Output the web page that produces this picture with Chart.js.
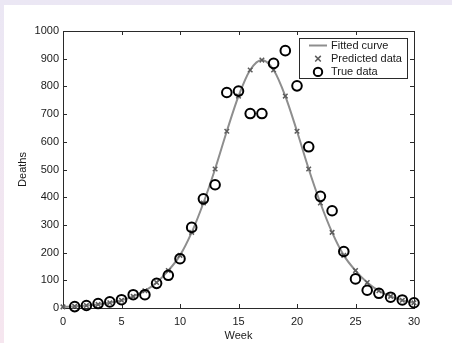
<!DOCTYPE html>
<html>
<head>
<meta charset="utf-8">
<script src="https://cdn.jsdelivr.net/npm/chart.js@4"></script>
<style>
  html, body { margin: 0; padding: 0; }
  body { width: 452px; height: 343px; background: linear-gradient(#ebe7f4, #f6e6ef); position: relative; overflow: hidden; }
  #wrap { position: absolute; left: 4px; top: 5px; width: 448px; height: 338px; background: #fff; }
</style>
</head>
<body>
<div id="wrap"><canvas id="fitCanvas" width="448" height="338"></canvas></div>
<script>
// weeks and values
var weeks = [0,1,2,3,4,5,6,7,8,9,10,11,12,13,14,15,16,17,18,19,20,21,22,23,24,25,26,27,28,29,30];
var predicted = [4,6,9,13,19,28,42,62,92,135,190,273,379,502,638,765,859,895,859,765,638,502,379,273,190,135,92,62,42,28,19];
var trueWeeks = [1,2,3,4,5,6,7,8,9,10,11,12,13,14,15,16,17,18,19,20,21,22,23,24,25,26,27,28,29,30];
var trueDeaths = [5,9,16,22,30,48,48,89,118,178,291,394,445,778,783,702,702,883,929,802,582,403,351,204,105,64,53,39,29,19];
var xTicks = [0,5,10,15,20,25,30];
var yTicks = [0,100,200,300,400,500,600,700,800,900,1000];

var fontFam = "'Liberation Sans', Arial, sans-serif";

function pts(xs, ys){
    var out = [];
    for(var i = 0; i < xs.length; i++){
        out.push({x: xs[i], y: ys[i]});
    }
    return out;
}

// axes box with inward ticks on all sides (matlab look)
var framePlugin = {
    id: 'frame',
    beforeDatasetsDraw: function(chart){
        var ctx = chart.ctx, a = chart.chartArea;
        var xs = chart.scales.x, ys = chart.scales.y;
        ctx.save();
        ctx.strokeStyle = '#2a2a2a';
        ctx.lineWidth = 1;
        ctx.strokeRect(a.left + 0.5, a.top + 0.5, a.right - a.left, a.bottom - a.top);
        ctx.beginPath();
        xTicks.forEach(function(t){
            var px = Math.round(xs.getPixelForValue(t)) + 0.5;
            ctx.moveTo(px, a.bottom); ctx.lineTo(px, a.bottom - 4);
            ctx.moveTo(px, a.top); ctx.lineTo(px, a.top + 4);
        });
        yTicks.forEach(function(t){
            var py = Math.round(ys.getPixelForValue(t)) + 0.5;
            ctx.moveTo(a.left, py); ctx.lineTo(a.left + 4, py);
            ctx.moveTo(a.right, py); ctx.lineTo(a.right - 4, py);
        });
        ctx.stroke();
        ctx.restore();
    }
};

// legend box in the top right corner of the axes
var legendPlugin = {
    id: 'boxLegend',
    afterDraw: function(chart){
        var ctx = chart.ctx, a = chart.chartArea;
        var ds = chart.data.datasets;
        var bx = 295, by = 33, bw = 108, bh = 40;
        ctx.save();
        ctx.fillStyle = '#fff';
        ctx.fillRect(bx, by, bw, bh);
        ctx.strokeStyle = '#2a2a2a';
        ctx.lineWidth = 1;
        ctx.strokeRect(bx + 0.5, by + 0.5, bw, bh);
        ctx.font = '11px ' + fontFam;
        ctx.textBaseline = 'middle';
        for(var i = 0; i < ds.length; i++){
            var cy = by + 7.5 + i * 13.2;
            var cx = bx + 19;
            ctx.strokeStyle = ds[i].borderColor;
            ctx.lineWidth = ds[i].borderWidth;
            ctx.beginPath();
            if(i == 0){
                ctx.moveTo(cx - 9, cy); ctx.lineTo(cx + 9, cy);
            }else if(ds[i].pointStyle == 'crossRot'){
                var r = 2.8;
                ctx.moveTo(cx - r, cy - r); ctx.lineTo(cx + r, cy + r);
                ctx.moveTo(cx + r, cy - r); ctx.lineTo(cx - r, cy + r);
            }else{
                ctx.arc(cx, cy, 4.2, 0, Math.PI * 2);
            }
            ctx.stroke();
            ctx.fillStyle = '#1a1a1a';
            ctx.fillText(ds[i].label, bx + 32, cy + 0.5);
        }
        ctx.restore();
    }
};

var config = {
    type: 'line',
    data: {
        datasets: [{
            label: 'Fitted curve',
            data: pts(weeks, predicted),
            borderColor: '#8e8e8e',
            borderWidth: 2,
            pointRadius: 0,
            cubicInterpolationMode: 'monotone',
            order: 3
        },{
            label: 'Predicted data',
            data: pts(weeks, predicted),
            showLine: false,
            pointStyle: 'crossRot',
            pointRadius: 3.2,
            borderColor: '#5c5c5c',
            borderWidth: 1.5,
            order: 2
        },{
            label: 'True data',
            data: pts(trueWeeks, trueDeaths),
            showLine: false,
            pointStyle: 'circle',
            pointRadius: 4.8,
            borderColor: '#000',
            backgroundColor: 'rgba(0,0,0,0)',
            borderWidth: 2,
            order: 1
        }]
    },
    options: {
        responsive: false,
        animation: false,
        clip: false,
        layout: { padding: { top: 26, right: 38, left: 0, bottom: 0 } },
        plugins: { legend: { display: false }, tooltip: { enabled: false } },
        scales: {
            x: {
                type: 'linear',
                min: 0, max: 30,
                afterFit: function(s){ s.height = 35; },
                afterBuildTicks: function(s){ s.ticks = xTicks.map(function(v){ return {value: v}; }); },
                grid: { display: false, drawTicks: false },
                border: { display: false },
                ticks: { color: '#1a1a1a', font: { size: 11, family: fontFam }, padding: 7, maxRotation: 0,
                         callback: function(v){ return String(v); } },
                title: { display: true, text: 'Week', color: '#1a1a1a', font: { size: 11, family: fontFam }, padding: { top: 0, bottom: 0 } }
            },
            y: {
                min: 0, max: 1000,
                afterFit: function(s){ s.width = 59; },
                afterBuildTicks: function(s){ s.ticks = yTicks.map(function(v){ return {value: v}; }); },
                grid: { display: false, drawTicks: false },
                border: { display: false },
                ticks: { color: '#1a1a1a', font: { size: 11, family: fontFam }, padding: 4,
                         callback: function(v){ return String(v); } },
                title: { display: true, text: 'Deaths', color: '#1a1a1a', font: { size: 11, family: fontFam }, padding: { top: 12, bottom: 0 } }
            }
        }
    },
    plugins: [framePlugin, legendPlugin]
};

new Chart(document.getElementById('fitCanvas'), config);
</script>
</body>
</html>
